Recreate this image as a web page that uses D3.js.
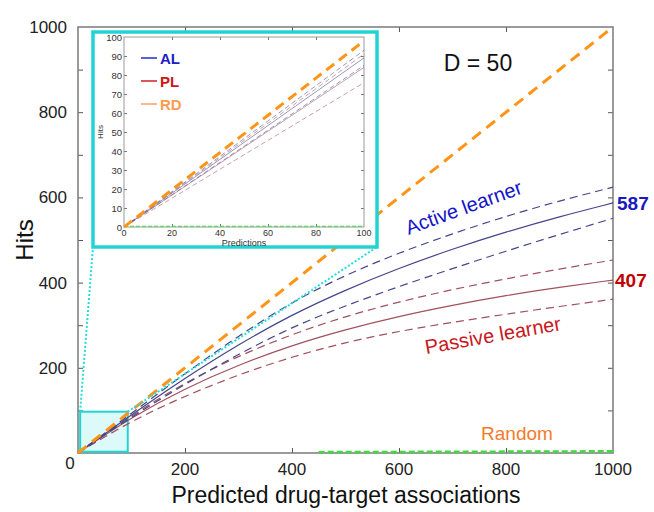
<!DOCTYPE html>
<html>
<head>
<meta charset="utf-8">
<script src="https://cdn.jsdelivr.net/npm/d3@7"></script>
<style>
  body { margin: 0; background: #fff; }
  svg text { font-family: "Liberation Sans", Arial, sans-serif; }
</style>
</head>
<body>
<div id="chart"></div>
<script>
(function(){
    // data
    var predictions = [0, 100, 200, 300, 400, 500, 600, 700, 800, 900, 1000];
    var alMean  = [0, 90, 176, 255, 325, 383, 434, 479, 519, 555, 587];
    var alUpper = [0, 93, 187, 275, 355, 418, 470, 515, 556, 592, 624];
    var alLower = [0, 85, 162, 232, 296, 346, 391, 433, 474, 513, 551];
    var plMean  = [0, 84, 152, 207, 253, 290, 321, 347, 370, 389, 406];
    var plUpper = [0, 88, 166, 228, 279, 321, 355, 384, 409, 432, 453];
    var plLower = [0, 76, 134, 184, 226, 260, 286, 307, 326, 344, 361];
    var randomX = [0, 1000], randomY = [0, 1000];
    var greenX = [450, 1000], greenY = [2, 4];

    // inset (first 100 predictions)
    var insetX = [0, 100];
    var insetAL = [[0, 0], [100, 93]], insetALm = [[0, 0], [100, 89]], insetALl = [[0, 0], [100, 85]];
    var insetPL = [[0, 0], [100, 91]], insetPLm = [[0, 0], [100, 84]], insetPLl = [[0, 0], [100, 76]];
    var insetRD = [[0, 0], [100, 98]];
    var legendItems = ['AL', 'PL', 'RD'];

    var xTicks = [200, 400, 600, 800, 1000];
    var yTicks = [200, 400, 600, 800, 1000];

    var WIDTH = 654, HEIGHT = 512;
    var svg = d3.select('#chart').append('svg')
        .attr('width', WIDTH).attr('height', HEIGHT);

    var x = d3.scaleLinear().domain([0, 1000]).range([78, 613]);
    var y = d3.scaleLinear().domain([0, 1000]).range([453, 27]);

    var FRAME = '#7a7a7a';
    var AL_COL = '#45458a', PL_COL = '#a0505e';

    // ticks inside the frame, on all four sides
    var axes = svg.append('g');
    axes.append('g').attr('transform', 'translate(0,' + y(0) + ')')
        .call(d3.axisTop(x).tickValues(d3.range(200, 1000, 200)).tickSize(5).tickFormat(''));
    axes.append('g').attr('transform', 'translate(0,' + y(1000) + ')')
        .call(d3.axisBottom(x).tickValues(d3.range(200, 1000, 200)).tickSize(5).tickFormat(''));
    axes.append('g').attr('transform', 'translate(' + x(0) + ',0)')
        .call(d3.axisRight(y).tickValues(d3.range(100, 1000, 100)).tickSize(5).tickFormat(''));
    axes.append('g').attr('transform', 'translate(' + x(1000) + ',0)')
        .call(d3.axisLeft(y).tickValues(d3.range(100, 1000, 100)).tickSize(5).tickFormat(''));
    axes.selectAll('.domain').remove();
    axes.selectAll('line').attr('stroke', '#555');

    svg.append('rect')
        .attr('x', x(0)).attr('y', y(1000))
        .attr('width', x(1000) - x(0)).attr('height', y(0) - y(1000))
        .attr('fill', 'none').attr('stroke', FRAME).attr('stroke-width', 1.5);

    // tick labels
    svg.append('g').selectAll('text').data(xTicks).enter().append('text')
        .attr('x', function(d){ return x(d); }).attr('y', 475)
        .attr('text-anchor', 'middle').attr('font-size', 17).attr('fill', '#222')
        .text(function(d){ return d; });
    svg.append('g').selectAll('text').data(yTicks).enter().append('text')
        .attr('x', 67).attr('y', function(d){ return y(d) + 6; })
        .attr('text-anchor', 'end').attr('font-size', 17).attr('fill', '#222')
        .text(function(d){ return d; });
    svg.append('text').attr('x', 70).attr('y', 469).attr('text-anchor', 'middle')
        .attr('font-size', 17).attr('fill', '#222').text('0');

    svg.append('text').attr('x', 346).attr('y', 503).attr('text-anchor', 'middle')
        .attr('font-size', 23).attr('fill', '#111').text('Predicted drug-target associations');
    svg.append('text').attr('transform', 'translate(33,240) rotate(-90)')
        .attr('text-anchor', 'middle').attr('font-size', 24).attr('fill', '#111').text('Hits');

    // zoom box
    svg.append('rect')
        .attr('x', x(4)).attr('y', y(97))
        .attr('width', x(93) - x(4)).attr('height', y(3) - y(97))
        .attr('fill', '#dcfafa').attr('stroke', '#22d3d3').attr('stroke-width', 2);

    // curves
    function series(vals){ return predictions.map(function(p, i){ return [p, vals[i]]; }); }
    var line = d3.line().x(function(d){ return x(d[0]); }).y(function(d){ return y(d[1]); })
        .curve(d3.curveBasis);
    var plot = svg.append('g');

    [[plUpper, PL_COL, '8,5'], [plLower, PL_COL, '8,5'], [plMean, PL_COL, null],
     [alUpper, AL_COL, '8,5'], [alLower, AL_COL, '8,5'], [alMean, AL_COL, null]]
        .forEach(function(s){
            plot.append('path').datum(series(s[0]))
                .attr('d', line).attr('fill', 'none')
                .attr('stroke', s[1]).attr('stroke-width', 1.2)
                .attr('stroke-dasharray', s[2]);
        });

    plot.append('path').datum(greenX.map(function(v, i){ return [v, greenY[i]]; }))
        .attr('d', line).attr('fill', 'none').attr('stroke', '#3ddc3d')
        .attr('stroke-width', 2.5).attr('stroke-dasharray', '6,3');

    plot.append('path').datum(randomX.map(function(v, i){ return [v, randomY[i]]; }))
        .attr('d', line).attr('fill', 'none').attr('stroke', '#ff9416')
        .attr('stroke-width', 3).attr('stroke-dasharray', '11,7');

    // connector lines from zoom box to the inset
    var IN = {left: 93, top: 32, right: 377, bottom: 247};
    svg.append('line').attr('x1', x(4)).attr('y1', y(97)).attr('x2', IN.left).attr('y2', IN.bottom)
        .attr('stroke', '#22dddd').attr('stroke-width', 2).attr('stroke-dasharray', '2,2');
    svg.append('line').attr('x1', x(93)).attr('y1', y(97)).attr('x2', IN.right).attr('y2', IN.bottom)
        .attr('stroke', '#22dddd').attr('stroke-width', 2).attr('stroke-dasharray', '2,2');

    // labels in the plot
    svg.append('text').attr('x', 478).attr('y', 71).attr('text-anchor', 'middle')
        .attr('font-size', 23).attr('fill', '#111').text('D = 50');
    svg.append('text').attr('transform', 'translate(466,214) rotate(-20)')
        .attr('text-anchor', 'middle').attr('font-size', 20).attr('fill', '#1414c8').text('Active learner');
    svg.append('text').attr('transform', 'translate(494,342) rotate(-10)')
        .attr('text-anchor', 'middle').attr('font-size', 20).attr('fill', '#c81822').text('Passive learner');
    svg.append('text').attr('x', 517).attr('y', 440).attr('text-anchor', 'middle')
        .attr('font-size', 19).attr('fill', '#f57a28').text('Random');
    svg.append('text').attr('x', 617).attr('y', y(587) + 7).attr('font-size', 19)
        .attr('font-weight', 'bold').attr('fill', '#1a1ac0').text('587');
    svg.append('text').attr('x', 615).attr('y', y(407) + 7).attr('font-size', 19)
        .attr('font-weight', 'bold').attr('fill', '#c00000').text('407');

    // inset
    var inset = svg.append('g');
    inset.append('rect')
        .attr('x', IN.left).attr('y', IN.top)
        .attr('width', IN.right - IN.left).attr('height', IN.bottom - IN.top)
        .attr('fill', '#fff').attr('stroke', '#22d3d3').attr('stroke-width', 3.5);

    var ix = d3.scaleLinear().domain(insetX).range([124, 364]);
    var iy = d3.scaleLinear().domain([0, 100]).range([227, 37]);

    var iax = inset.append('g');
    iax.append('g').attr('transform', 'translate(0,' + iy(0) + ')')
        .call(d3.axisTop(ix).tickValues(d3.range(20, 100, 20)).tickSize(3).tickFormat(''));
    iax.append('g').attr('transform', 'translate(0,' + iy(100) + ')')
        .call(d3.axisBottom(ix).tickValues(d3.range(20, 100, 20)).tickSize(3).tickFormat(''));
    iax.append('g').attr('transform', 'translate(' + ix(0) + ',0)')
        .call(d3.axisRight(iy).tickValues(d3.range(10, 100, 10)).tickSize(3).tickFormat(''));
    iax.append('g').attr('transform', 'translate(' + ix(100) + ',0)')
        .call(d3.axisLeft(iy).tickValues(d3.range(10, 100, 10)).tickSize(3).tickFormat(''));
    iax.selectAll('.domain').remove();
    iax.selectAll('line').attr('stroke', '#777');
    inset.append('rect').attr('x', ix(0)).attr('y', iy(100))
        .attr('width', ix(100) - ix(0)).attr('height', iy(0) - iy(100))
        .attr('fill', 'none').attr('stroke', '#999').attr('stroke-width', 1);

    inset.append('g').selectAll('text').data(d3.range(0, 101, 20)).enter().append('text')
        .attr('x', function(d){ return ix(d); }).attr('y', 236)
        .attr('text-anchor', 'middle').attr('font-size', 9).attr('fill', '#333')
        .text(function(d){ return d; });
    inset.append('g').selectAll('text').data(d3.range(0, 101, 10)).enter().append('text')
        .attr('x', 122).attr('y', function(d){ return iy(d) + 3.5; })
        .attr('text-anchor', 'end').attr('font-size', 9.5).attr('fill', '#333')
        .text(function(d){ return d; });
    inset.append('text').attr('x', 244).attr('y', 245.5).attr('text-anchor', 'middle')
        .attr('font-size', 9).attr('fill', '#333').text('Predictions');
    inset.append('text').attr('transform', 'translate(103,132) rotate(-90)')
        .attr('text-anchor', 'middle').attr('font-size', 8).attr('fill', '#333').text('Hits');

    var iline = d3.line().x(function(d){ return ix(d[0]); }).y(function(d){ return iy(d[1]); });
    [[insetPL, PL_COL, '5,3'], [insetPLl, PL_COL, '5,3'], [insetPLm, PL_COL, null],
     [insetAL, AL_COL, '5,3'], [insetALl, AL_COL, '5,3'], [insetALm, AL_COL, null]]
        .forEach(function(s){
            inset.append('path').datum(s[0]).attr('d', iline).attr('fill', 'none')
                .attr('stroke', s[1]).attr('stroke-opacity', 0.55).attr('stroke-width', 1)
                .attr('stroke-dasharray', s[2]);
        });
    inset.append('path').datum([[0, 0.4], [100, 0.4]]).attr('d', iline)
        .attr('stroke', '#3ddc3d').attr('stroke-width', 1.2).attr('stroke-dasharray', '4,2');
    inset.append('path').datum(insetRD).attr('d', iline).attr('fill', 'none')
        .attr('stroke', '#ff9416').attr('stroke-width', 3).attr('stroke-dasharray', '10,6');

    var legendColors = {AL: ['#2a2ad0', '#2020c8'], PL: ['#d02020', '#c81818'], RD: ['#ffa060', '#ff9a50']};
    var lg = inset.append('g').selectAll('g').data(legendItems).enter().append('g')
        .attr('transform', function(d, i){ return 'translate(141,' + (58 + i * 23) + ')'; });
    lg.append('line').attr('x1', 0).attr('x2', 16).attr('y1', 0).attr('y2', 0)
        .attr('stroke', function(d){ return legendColors[d][0]; }).attr('stroke-width', 1.5);
    lg.append('text').attr('x', 19).attr('y', 5.5).attr('font-size', 15).attr('font-weight', 'bold')
        .attr('fill', function(d){ return legendColors[d][1]; })
        .text(function(d){ return d; });
})();
</script>
</body>
</html>
